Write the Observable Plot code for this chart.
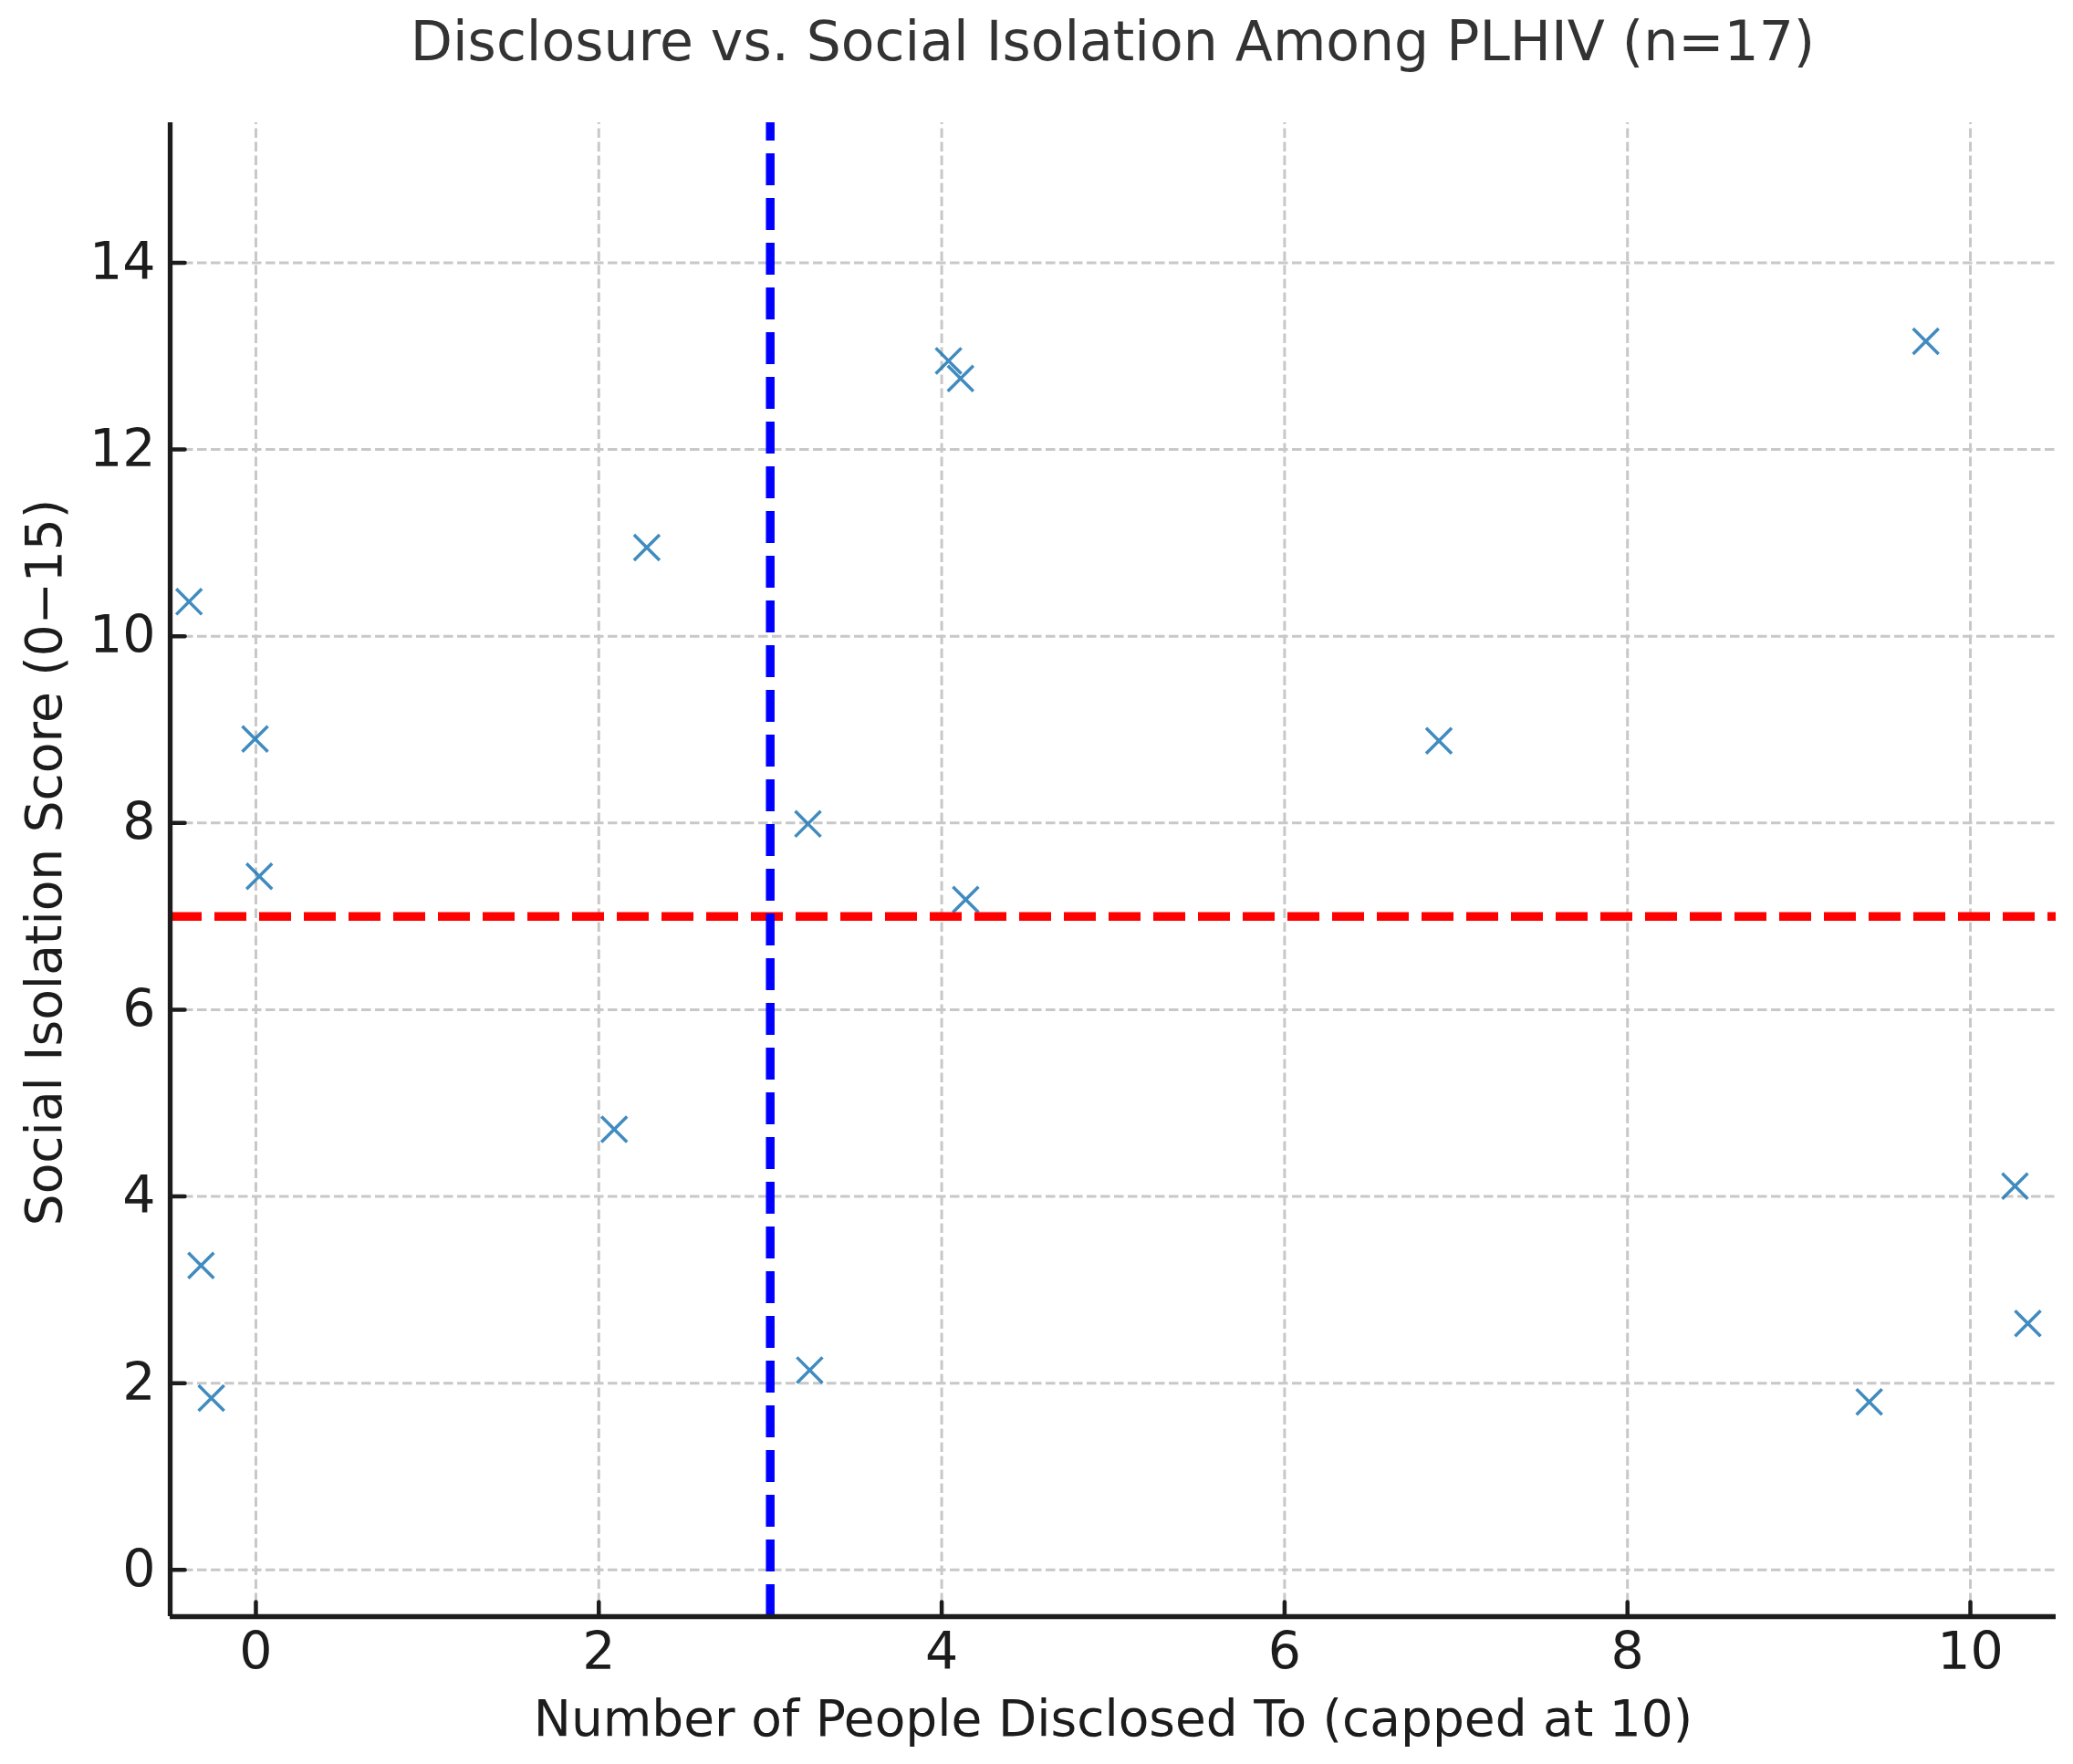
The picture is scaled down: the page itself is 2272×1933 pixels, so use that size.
<!DOCTYPE html>
<html>
<head>
<meta charset="utf-8">
<script src="https://cdn.jsdelivr.net/npm/d3@7"></script>
<script src="https://cdn.jsdelivr.net/npm/@observablehq/plot@0.6"></script>
<style>
  html, body { margin: 0; padding: 0; background: #ffffff; }
  #title {
    margin-left: 186px; width: 2067px; height: 90px; line-height: 90px;
    text-align: center; font-family: "DejaVu Sans"; font-size: 60px; color: #333333;
    white-space: nowrap;
  }
  #chart svg { display: block; }
</style>
</head>
<body>
<div id="title">Disclosure vs. Social Isolation Among PLHIV (n=17)</div>
<div id="chart"></div>
<script>
// ---- data ----
const disclosed = [-0.39, -0.005, 0.02, -0.32, -0.26, 2.28, 2.09, 3.22, 3.23, 4.04, 4.11, 4.14, 6.90, 9.74, 9.41, 10.26, 10.335];
const isolation = [10.37, 8.90, 7.43, 3.26, 1.84, 10.95, 4.72, 7.99, 2.14, 12.95, 12.76, 7.18, 8.88, 13.16, 1.80, 4.11, 2.64];
const xTicks = [0, 2, 4, 6, 8, 10];
const yTicks = [0, 2, 4, 6, 8, 10, 12, 14];
const xDomain = [-0.5, 10.5];
const yDomain = [-0.5, 15.5];
const disclosureCut = [3];
const isolationCut = [7];
const xLabel = "Number of People Disclosed To (capped at 10)";
const yLabel = "Social Isolation Score (0\u221215)";

const points = disclosed.map((x, i) => ({x, y: isolation[i]}));
const ink = "#1c1c1c";
const fmt = d3.format("d");
const gridStyle = {stroke: "#c8c8c8", strokeOpacity: 1, strokeWidth: 3, strokeDasharray: "10.5,4.5"};
const tickShape = {draw(context, l) { context.moveTo(0, 0); context.lineTo(0, -l); }};

const chart = Plot.plot({
  width: 2272,
  height: 1843,
  marginTop: 44,
  marginBottom: 162,
  marginLeft: 186,
  marginRight: 19,
  x: {domain: xDomain},
  y: {domain: yDomain},
  style: {fontFamily: "DejaVu Sans", background: "#ffffff", color: ink},
  marks: [
    Plot.ruleX(xTicks, {x: d => d, y1: yDomain[0], y2: yDomain[1], ...gridStyle}),
    Plot.ruleY(yTicks, {y: d => d, x1: xDomain[0], x2: xDomain[1], ...gridStyle}),
    Plot.dot(points, {x: "x", y: "y", symbol: "times", r: 12.8, stroke: "#1f77b4", strokeOpacity: 0.85, strokeWidth: 3.5, fill: "none"}),
    Plot.ruleY(isolationCut, {y: d => d, x1: xDomain[0], x2: xDomain[1], stroke: "#ff0000", strokeWidth: 9.5, strokeDasharray: "35,14"}),
    Plot.ruleX(disclosureCut, {x: d => d, y1: yDomain[0], y2: yDomain[1], stroke: "#0000ff", strokeWidth: 9.5, strokeDasharray: "35,14"}),
    Plot.ruleX([xDomain[0]], {x: d => d, y1: yDomain[0], y2: yDomain[1], stroke: ink, strokeWidth: 5.3}),
    Plot.ruleY([yDomain[0]], {y: d => d, x1: xDomain[0], x2: xDomain[1], stroke: ink, strokeWidth: 5.3}),
    Plot.vector(xTicks, {x: d => d, frameAnchor: "bottom", length: 16, rotate: 0, anchor: "start", shape: tickShape, stroke: ink, strokeWidth: 4.5}),
    Plot.vector(yTicks, {y: d => d, frameAnchor: "left", length: 16, rotate: 90, anchor: "start", shape: tickShape, stroke: ink, strokeWidth: 4.5}),
    Plot.axisX(xTicks, {anchor: "bottom", tickSize: 0, tickPadding: 17, tickFormat: fmt, stroke: "none", fill: ink, fontSize: 57, label: null}),
    Plot.axisY(yTicks, {anchor: "left", tickSize: 0, tickPadding: 16, tickFormat: fmt, stroke: "none", fill: ink, fontSize: 57, label: null}),
    Plot.text([xLabel], {text: d => d, frameAnchor: "bottom", lineAnchor: "top", textAnchor: "middle", dy: 91, fontSize: 55, fill: ink}),
    Plot.text([yLabel], {text: d => d, frameAnchor: "left", textAnchor: "middle", lineAnchor: "middle", rotate: -90, dx: -137, dy: -8, fontSize: 55, fill: ink})
  ]
});
document.getElementById("chart").appendChild(chart);
</script>
</body>
</html>
